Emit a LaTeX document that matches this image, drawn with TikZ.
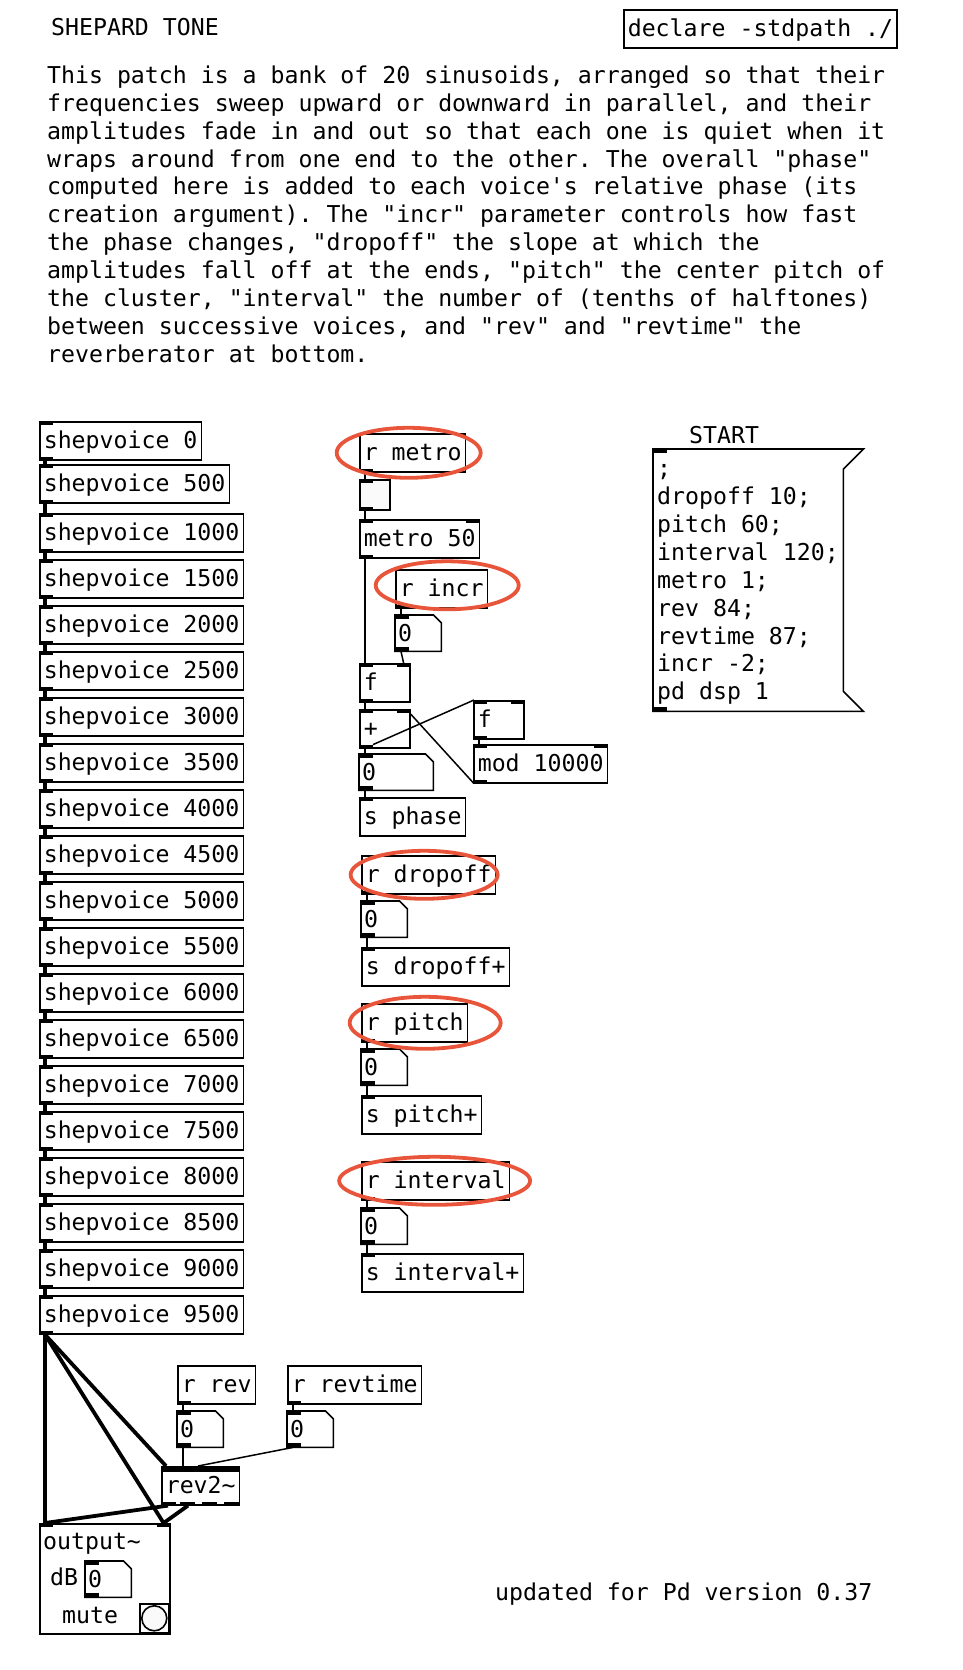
\documentclass[tikz,border=0pt]{standalone}
\usepackage{fontspec}
\setmonofont{DejaVu Sans Mono}
\definecolor{ringred}{RGB}{232,85,58}

% pd boxes: inlets and outlets
\newcommand{\inlet}[1]{\fill (#1.north west) rectangle ++(14,4);}
\newcommand{\inletr}[1]{\fill (#1.north east) rectangle ++(-14,4);}
\newcommand{\outlet}[1]{\fill (#1.south west) rectangle ++(14,-4);}
\newcommand{\nbframe}[1]{\draw[box] (#1.north west) -- ([xshift=-8pt]#1.north east) -- ([yshift=-8pt]#1.north east) -- (#1.south east) -- (#1.south west) -- cycle;}

\tikzset{
  box/.style={line width=1.6pt},
  obj/.style={draw, box, anchor=north west, minimum height=38pt, inner xsep=4pt, inner ysep=0pt, text height=19pt, text depth=3pt},
  fobj/.style={obj, text width=42pt},
  numbox/.style={anchor=north west, minimum height=36pt, inner xsep=3pt, inner ysep=0pt, text height=19pt, text depth=3pt, text width=40pt},
  ctl/.style={line width=1.5pt},
  sig/.style={line width=3.8pt},
  ring/.style={draw=ringred, line width=3.8pt},
}

\begin{document}
\frenchspacing
\begin{tikzpicture}[x=1pt, y=-1pt, every node/.style={font=\ttfamily\fontsize{23.2}{27.9}\selectfont}]
\useasboundingbox (0,0) rectangle (962,1670);

\node[anchor=base west, inner sep=0pt] (title) at (51,36) {SHEPARD TONE};
\node[obj] (decl) at (623,9) {declare -stdpath ./};

\node[anchor=north west, align=left, inner sep=0pt] (para) at (47,65.5) {This patch is a bank of 20 sinusoids, arranged so that their\\
frequencies sweep upward or downward in parallel, and their\\
amplitudes fade in and out so that each one is quiet when it\\
wraps around from one end to the other. The overall "phase"\\
computed here is added to each voice's relative phase (its\\
creation argument). The "incr" parameter controls how fast\\
the phase changes, "dropoff" the slope at which the\\
amplitudes fall off at the ends, "pitch" the center pitch of\\
the cluster, "interval" the number of (tenths of halftones)\\
between successive voices, and "rev" and "revtime" the\\
reverberator at bottom.};

% voices
\foreach \v/\y in {0/421,500/464,1000/513,1500/559,2000/605,2500/651,3000/697,3500/743,4000/789,4500/835,5000/881,5500/927,6000/973,6500/1019,7000/1065,7500/1111,8000/1157,8500/1203,9000/1249,9500/1295}
{
  \node[obj] (sv\v) at (39,\y) {shepvoice \v};
  \inlet{sv\v} \outlet{sv\v}
}
\foreach \a/\b in {0/500,500/1000,1000/1500,1500/2000,2000/2500,2500/3000,3000/3500,3500/4000,4000/4500,4500/5000,5000/5500,5500/6000,6000/6500,6500/7000,7000/7500,7500/8000,8000/8500,8500/9000,9000/9500}
  \draw[sig] ([xshift=6pt]sv\a.south west) -- ([xshift=6pt]sv\b.north west);

% phase
\node[obj] (rmetro) at (359,433) {r metro};
\node[draw, box, fill=gray!4, anchor=north west, minimum size=30pt, inner sep=0pt] (bng) at (359,479) {};
\node[obj] (metro) at (359,519) {metro 50};
\node[obj] (rincr) at (395,569) {r incr};
\node[numbox] (nincr) at (395,615) {0};
\node[fobj] (fl) at (359,663) {f};
\node[fobj] (plus) at (359,709) {+};
\node[fobj] (fr) at (473,700) {f};
\node[obj] (mod) at (473,744) {mod 10000};
\node[numbox, text width=68pt] (nphase) at (359,754) {0};
\node[obj] (sphase) at (359,797) {s phase};

% parameters
\node[obj] (rdrop) at (361,855) {r dropoff};
\node[numbox] (ndrop) at (361,901) {0};
\node[obj] (sdrop) at (361,947) {s dropoff+};
\node[obj] (rpitch) at (361,1003) {r pitch};
\node[numbox] (npitch) at (361,1049) {0};
\node[obj] (spitch) at (361,1095) {s pitch+};
\node[obj] (rint) at (361,1161) {r interval};
\node[numbox] (nint) at (361,1208) {0};
\node[obj] (sint) at (361,1253) {s interval+};

% start message
\node[anchor=base west, inner sep=0pt] (start) at (689,443) {START};
\node[anchor=north west, inner xsep=4pt, inner ysep=0pt, minimum width=210pt, minimum height=262pt, text width=202pt, align=flush left] (msg) at (653,449) {\rule{0pt}{21pt};\\
dropoff 10;\\
pitch 60;\\
interval 120;\\
metro 1;\\
rev 84;\\
revtime 87;\\
incr -2;\\
pd dsp 1};
\draw[box] (msg.north west) -- (msg.north east) -- ++(-20,20) -- ([xshift=-20pt,yshift=20pt]msg.south east) -- (msg.south east) -- (msg.south west) -- cycle;

% reverb and output
\node[obj] (rrev) at (177,1365) {r rev};
\node[numbox] (nrev) at (177,1411) {0};
\node[obj] (rrevt) at (287,1365) {r revtime};
\node[numbox] (nrevt) at (287,1411) {0};
\node[obj] (rev) at (161,1466) {rev2\textasciitilde};
\fill (rev.north west) rectangle ([yshift=-6pt]rev.north east);
\foreach \dx in {0,19,41,63}
  \fill ([xshift=\dx pt]rev.south west) rectangle ++(15,-4);

\node[draw, box, anchor=north west, minimum width=130pt, minimum height=110pt, inner sep=0pt] (outp) at (39,1523) {};
\node[anchor=base west, inner sep=0pt] (outlbl) at (43,1549) {output\textasciitilde};
\node[anchor=base west, inner sep=0pt] (dblbl) at (50,1585) {dB};
\node[numbox] (ndb) at (85,1561) {0};
\node[anchor=base west, inner sep=0pt] (mutelbl) at (62,1623) {mute};
\node[draw, box, anchor=north west, minimum size=29pt, inner sep=0pt] (mute) at (139,1603) {};
\node[draw, box, circle, fill=gray!4, minimum size=25pt, inner sep=0pt] (mutebtn) at (mute.center) {};

\node[anchor=base west, inner sep=0pt] (upd) at (495,1600) {updated for Pd version 0.37};

% frames, inlets, outlets
\foreach \n in {nincr,nphase,ndrop,npitch,nint,nrev,nrevt,ndb} {\nbframe{\n}}
\foreach \n in {bng,metro,nincr,fl,plus,fr,mod,nphase,sphase,ndrop,sdrop,npitch,spitch,nint,sint,msg,nrev,nrevt,outp,ndb} {\inlet{\n}}
\foreach \n in {metro,fl,plus,fr,mod,outp} {\inletr{\n}}
\foreach \n in {rmetro,bng,metro,rincr,nincr,fl,plus,fr,mod,nphase,rdrop,ndrop,rpitch,npitch,rint,nint,msg,rrev,nrev,rrevt,nrevt,ndb} {\outlet{\n}}

% control connections
\draw[ctl] ([xshift=6pt]rmetro.south west) -- ([xshift=6pt]bng.north west);
\draw[ctl] ([xshift=6pt]bng.south west) -- ([xshift=6pt]metro.north west);
\draw[ctl] ([xshift=6pt]metro.south west) -- ([xshift=6pt]fl.north west);
\draw[ctl] ([xshift=6pt]rincr.south west) -- ([xshift=6pt]nincr.north west);
\draw[ctl] ([xshift=6pt]nincr.south west) -- ([xshift=-7pt]fl.north east);
\draw[ctl] ([xshift=6pt]fl.south west) -- ([xshift=6pt]plus.north west);
\draw[ctl] ([xshift=6pt]plus.south west) -- ([xshift=6pt]nphase.north west);
\draw[ctl] ([xshift=14pt,yshift=4pt]plus.south west) -- ([xshift=1pt]fr.north west);
\draw[ctl] ([xshift=6pt]fr.south west) -- ([xshift=6pt]mod.north west);
\draw[ctl] ([xshift=1pt]mod.south west) -- ([yshift=-5pt]plus.north east);
\draw[ctl] ([xshift=6pt]nphase.south west) -- ([xshift=6pt]sphase.north west);
\draw[ctl] ([xshift=6pt]rdrop.south west) -- ([xshift=6pt]ndrop.north west);
\draw[ctl] ([xshift=6pt]ndrop.south west) -- ([xshift=6pt]sdrop.north west);
\draw[ctl] ([xshift=6pt]rpitch.south west) -- ([xshift=6pt]npitch.north west);
\draw[ctl] ([xshift=6pt]npitch.south west) -- ([xshift=6pt]spitch.north west);
\draw[ctl] ([xshift=6pt]rint.south west) -- ([xshift=6pt]nint.north west);
\draw[ctl] ([xshift=6pt]nint.south west) -- ([xshift=6pt]sint.north west);
\draw[ctl] ([xshift=6pt]rrev.south west) -- ([xshift=6pt]nrev.north west);
\draw[ctl] ([xshift=6pt]rrevt.south west) -- ([xshift=6pt]nrevt.north west);
\draw[ctl] ([xshift=6pt]nrev.south west) -- ([xshift=22pt]rev.north west);
\draw[ctl] ([xshift=6pt]nrevt.south west) -- ([xshift=37pt]rev.north west);

% signal connections
\draw[sig] ([xshift=6pt]sv9500.south west) -- ([xshift=6pt]outp.north west);
\draw[sig] ([xshift=6pt]sv9500.south west) -- ([xshift=-7pt]outp.north east);
\draw[sig] ([xshift=6pt]sv9500.south west) -- ([xshift=5pt]rev.north west);
\draw[sig] ([xshift=7pt]rev.south west) -- ([xshift=6pt]outp.north west);
\draw[sig] ([xshift=27pt]rev.south west) -- ([xshift=-7pt]outp.north east);

% red marks
\draw[ring] ([xshift=-4pt]rmetro.center) ellipse [x radius=72pt, y radius=25pt];
\draw[ring] ([xshift=5.5pt,yshift=3.5pt]rincr.center) ellipse [x radius=71.5pt, y radius=24pt];
\draw[ring] ([xshift=-4.5pt]rdrop.center) ellipse [x radius=73.5pt, y radius=24pt];
\draw[ring] ([xshift=10.5pt]rpitch.center) ellipse [x radius=75.5pt, y radius=26pt];
\draw[ring] ([xshift=-1pt]rint.center) ellipse [x radius=95.5pt, y radius=24pt];
\end{tikzpicture}
\end{document}
